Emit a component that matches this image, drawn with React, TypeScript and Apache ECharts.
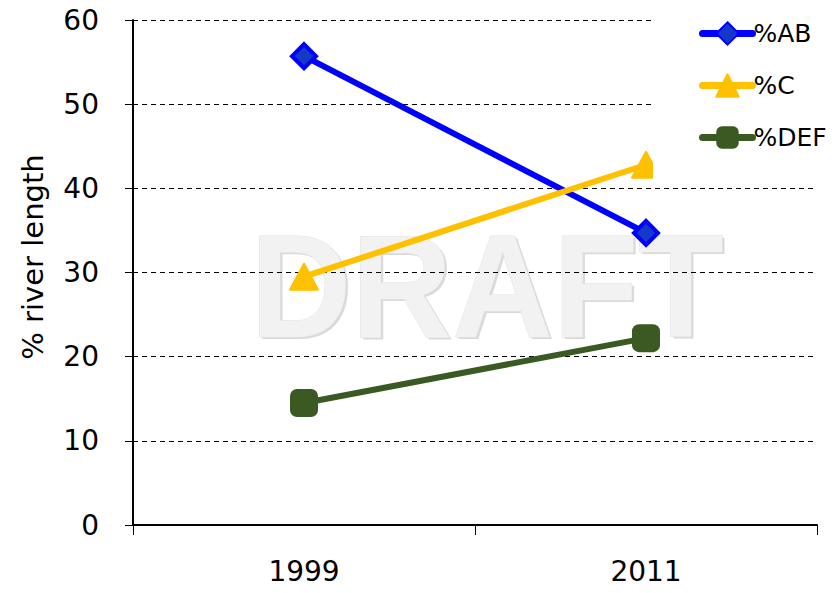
import React, { useEffect, useRef } from "react";
import * as echarts from "echarts";

const categories = ["1999", "2011"];
const seriesNames = ["%AB", "%C", "%DEF"];
const abValues = [55.7, 34.7];
const cValues = [29.5, 42.8];
const defValues = [14.5, 22.2];
const yTicks = { min: 0, max: 60, interval: 10 };
const yTitle = "% river length";
const watermark = "DRAFT";

const FONT = "DejaVu Sans";

export default function App() {
  const ref = useRef<HTMLDivElement>(null);
  useEffect(() => {
    if (!ref.current) return;
    const chart = echarts.init(ref.current, undefined, { renderer: "svg" });
    const wmStyle = {
      text: watermark,
      font: "bold 147px 'Liberation Sans'",
      align: "center",
      verticalAlign: "middle",
    };
    chart.setOption({
      animation: false,
      backgroundColor: "#ffffff",
      grid: { left: 133, right: 18, top: 20, bottom: 68, containLabel: false },
      graphic: [
        {
          type: "text",
          z: -12,
          silent: true,
          x: 489.5,
          y: 288,
          scaleX: 0.95,
          style: { ...wmStyle, fill: "#dadada" },
        },
        {
          type: "text",
          z: -11,
          silent: true,
          x: 487,
          y: 285.5,
          scaleX: 0.95,
          style: { ...wmStyle, fill: "#f2f2f2", stroke: "#e2e2e2", lineWidth: 1 },
        },
        {
          type: "text",
          silent: true,
          x: 33,
          y: 257,
          rotation: Math.PI / 2,
          style: {
            text: yTitle,
            font: `29px '${FONT}'`,
            fill: "#000",
            align: "center",
            verticalAlign: "middle",
          },
        },
      ],
      legend: {
        orient: "vertical",
        left: 653,
        top: 11,
        padding: [10, 20, 30, 46],
        backgroundColor: "#ffffff",
        itemWidth: 50,
        itemHeight: 28,
        itemGap: 27,
        lineStyle: { width: 7, cap: "round" },
        textStyle: { fontFamily: FONT, fontSize: 25, color: "#000", padding: [0, 0, 0, -4] },
        data: seriesNames,
      },
      xAxis: {
        type: "category",
        data: categories,
        boundaryGap: true,
        axisLine: { lineStyle: { color: "#000", width: 2 } },
        axisTick: { show: true, length: 10, lineStyle: { color: "#000", width: 1 } },
        axisLabel: { fontFamily: FONT, fontSize: 28, color: "#000", margin: 32 },
        splitLine: { show: false },
      },
      yAxis: {
        type: "value",
        min: yTicks.min,
        max: yTicks.max,
        interval: yTicks.interval,
        axisLine: { show: true, lineStyle: { color: "#000", width: 2 } },
        axisTick: { show: true, length: 8, lineStyle: { color: "#000", width: 1 } },
        axisLabel: { fontFamily: FONT, fontSize: 28, color: "#000", margin: 34 },
        splitLine: { show: true, lineStyle: { color: "#000", width: 1, type: [5, 4] } },
      },
      series: [
        {
          name: seriesNames[0],
          type: "line",
          data: abValues,
          symbol: "diamond",
          symbolSize: 24,
          lineStyle: { color: "#0000ff", width: 6 },
          itemStyle: { color: "#1438c8", borderColor: "#0000ff", borderWidth: 4 },
        },
        {
          name: seriesNames[1],
          type: "line",
          data: cValues,
          symbol: "triangle",
          symbolSize: [28, 26],
          lineStyle: { color: "#ffc000", width: 6 },
          itemStyle: { color: "#ffc000", borderColor: "#ffc000", borderWidth: 2, borderJoin: "round" },
        },
        {
          name: seriesNames[2],
          type: "line",
          data: defValues,
          symbol: "roundRect",
          symbolSize: 28,
          lineStyle: { color: "#3b5a23", width: 6 },
          itemStyle: { color: "#3b5a23" },
        },
      ],
    });
    return () => chart.dispose();
  }, []);
  return <div ref={ref} style={{ width: 835, height: 593, position: "absolute", left: 0, top: 0 }} />;
}
